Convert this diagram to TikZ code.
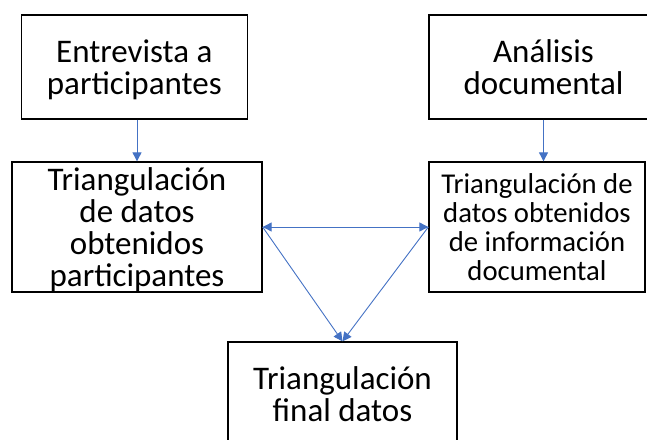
\documentclass[tikz,border=0pt]{standalone}
\usepackage{fontspec}
\setmainfont{Carlito}
\usetikzlibrary{arrows.meta}
\definecolor{azulflecha}{HTML}{4472C4}

\begin{document}
\begin{tikzpicture}
[x=1pt,y=-1pt,%
  every node/.style={shape=rectangle,inner sep=0pt,draw,line width=1.3pt,align=center,%
    font=\fontsize{33}{32}\selectfont},%
  flecha/.style={azulflecha,line width=0.9pt,-{Triangle[length=9pt,width=9pt]}}]
\useasboundingbox (0,0) rectangle (647,439);
\clip (0,0) rectangle (647,439);
\node[minimum width=226pt,minimum height=104pt,text depth=-1pt] (entrevista) at (134.3,67) {Entrevista a\\participantes};
\node[minimum width=229pt,minimum height=104pt,text depth=-4pt] (analisis) at (543.5,67) {Análisis\\documental};
\node[minimum width=250pt,minimum height=130pt,text depth=-3pt] (trianpart) at (137,227)
  {Triangulación\\de datos\\obtenidos\\participantes};
\node[minimum width=216pt,minimum height=130pt,font=\fontsize{28.7}{29}\selectfont] (triandoc) at (537,227)
  {Triangulación de\\datos obtenidos\\de información\\documental};
\node[minimum width=229pt,minimum height=104pt] (trianfinal) at (342.5,394) {Triangulación\\final datos};
\draw[flecha] (entrevista.south -| trianpart.north) -- (trianpart.north);
\draw[flecha] (analisis.south) -- (analisis.south |- triandoc.north);
\draw[flecha,{Triangle[length=9pt,width=9pt]}-{Triangle[length=9pt,width=9pt]}] (trianpart.east) -- (triandoc.west);
\draw[flecha] (trianpart.east) -- (trianfinal.north);
\draw[flecha] (triandoc.west) -- (trianfinal.north);
\end{tikzpicture}
\end{document}
